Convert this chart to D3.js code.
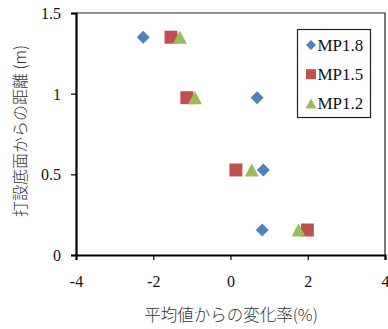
<!DOCTYPE html>
<html>
<head>
<meta charset="utf-8">
<script src="https://cdn.jsdelivr.net/npm/d3@7"></script>
<style>
  html, body { margin: 0; padding: 0; background: #fff; }
  svg { display: block; }
</style>
</head>
<body>
<svg id="chart" width="388" height="329"></svg>
<script>
// Height above casting base (m) and deviation from mean (%) per mix
const heights = [1.35, 0.975, 0.527, 0.155];
const mp18 = [-2.26, 0.69, 0.85, 0.82];
const mp15 = [-1.54, -1.13, 0.14, 1.99];
const mp12 = [-1.31, -0.92, 0.55, 1.76];
const seriesNames = ["MP1.8", "MP1.5", "MP1.2"];
const xTicks = [-4, -2, 0, 2, 4];
const yTicks = [0, 0.5, 1, 1.5];

const series = [
  { name: seriesNames[0], values: mp18, shape: "diamond", color: "#4F81BD" },
  { name: seriesNames[1], values: mp15, shape: "square",  color: "#C0504D" },
  { name: seriesNames[2], values: mp12, shape: "triangle", color: "#9BBB59" }
];

const serif = "Liberation Serif, Times New Roman, serif";
const svg = d3.select("#chart");
const plot = { left: 76, right: 385, top: 13, bottom: 255 };

const x = d3.scaleLinear().domain([-4, 4]).range([plot.left, plot.right]);
const y = d3.scaleLinear().domain([0, 1.5]).range([plot.bottom, plot.top]);

// Frame: thin top/right edges
svg.append("path")
  .attr("d", `M${plot.left},${plot.top}H${plot.right}V${plot.bottom}`)
  .attr("fill", "none").attr("stroke", "#222").attr("stroke-width", 1.2);

// Axes
const xAxis = svg.append("g")
  .attr("transform", `translate(0,${plot.bottom})`)
  .call(d3.axisBottom(x).tickValues(xTicks).tickSize(5).tickPadding(16)
        .tickFormat(d => d < 0 ? "-" + Math.abs(d) : String(d)));
const yAxis = svg.append("g")
  .attr("transform", `translate(${plot.left},0)`)
  .call(d3.axisLeft(y).tickValues(yTicks).tickSize(5).tickPadding(10)
        .tickFormat(d => String(d)));

[xAxis, yAxis].forEach(g => {
  g.attr("font-family", serif).attr("font-size", 16);
  g.select(".domain").attr("stroke", "#000").attr("stroke-width", 2.2);
  g.selectAll(".tick line").attr("stroke", "#000").attr("stroke-width", 1.2);
  g.selectAll(".tick text").attr("fill", "#111");
});
xAxis.selectAll(".tick text").attr("dy", "0.71em");
yAxis.selectAll(".tick text").attr("dy", "0.35em");

// Marker symbols
function symbolPath(shape, size) {
  const h = size / 2;
  if (shape === "diamond") return `M0,${-h}L${h},0L0,${h}L${-h},0Z`;
  if (shape === "square") return `M${-h},${-h}H${h}V${h}H${-h}Z`;
  return `M0,${-h}L${h + 0.5},${h}L${-h - 0.5},${h}Z`;
}

series.forEach(sr => {
  svg.append("g").selectAll("path")
    .data(sr.values.map((v, i) => ({ v, h: heights[i] })))
    .join("path")
    .attr("d", symbolPath(sr.shape, 13))
    .attr("transform", d => `translate(${x(d.v)},${y(d.h)})`)
    .attr("fill", sr.color);
});

// Legend
const legend = svg.append("g");
legend.append("rect")
  .attr("x", 297.5).attr("y", 29.5).attr("width", 73).attr("height", 88)
  .attr("fill", "#fff").attr("stroke", "#222").attr("stroke-width", 1.2);
series.forEach((sr, i) => {
  const cy = 45 + i * 29.2;
  legend.append("path")
    .attr("d", symbolPath(sr.shape, 10))
    .attr("transform", `translate(311,${cy})`)
    .attr("fill", sr.color);
  legend.append("text")
    .attr("x", 317.5).attr("y", cy).attr("dy", "0.35em")
    .attr("font-family", serif)
    .attr("font-size", 17).attr("fill", "#111")
    .text(sr.name);
});

// Axis titles
svg.append("text")
  .attr("x", 231).attr("y", 315).attr("dy", "0.35em")
  .attr("text-anchor", "middle")
  .attr("font-family", "Noto Sans CJK JP, sans-serif")
  .attr("font-size", 16.5).attr("font-weight", 300).attr("fill", "#333")
  .text("平均値からの変化率(%)");

svg.append("text")
  .attr("transform", "translate(20,131) rotate(-90)")
  .attr("dy", "0.35em")
  .attr("text-anchor", "middle")
  .attr("font-family", "Noto Sans CJK JP, sans-serif")
  .attr("font-size", 16).attr("font-weight", 300).attr("fill", "#333")
  .text("打設底面からの距離 (m)");
</script>
</body>
</html>
